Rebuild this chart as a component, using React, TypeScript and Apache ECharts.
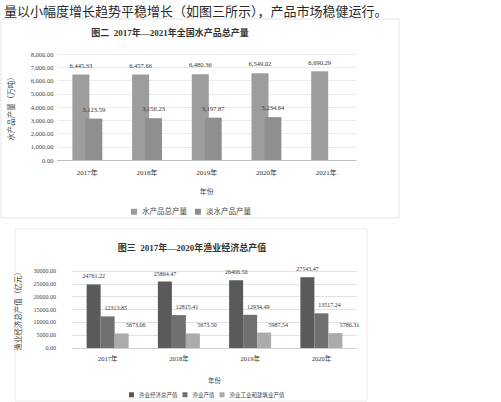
import React, { useEffect, useRef } from "react";
import * as echarts from "echarts";

const introText = "量以小幅度增长趋势平稳增长（如图三所示），产品市场稳健运行。";

const title1 = "图二  2017年—2021年全国水产品总产量";
const years1 = ["2017年", "2018年", "2019年", "2020年", "2021年"];
const seriesNames1 = ["水产品总产量", "淡水产品产量"];
const totalOutput = [6445.33, 6457.66, 6480.36, 6549.02, 6690.29];
const freshwaterOutput = [3123.59, 3156.23, 3197.87, 3234.64, null];
const yName1 = "水产品产量（万吨）";

const title2 = "图三  2017年—2020年渔业经济总产值";
const years2 = ["2017年", "2018年", "2019年", "2020年"];
const seriesNames2 = ["渔业经济总产值", "渔业产值", "渔业工业和建筑业产值"];
const economyTotal = [24761.22, 25864.47, 26406.5, 27543.47];
const fisheryValue = [12313.85, 12815.41, 12934.49, 13517.24];
const industryValue = [5673.06, 5673.5, 5987.54, 5786.31];
const yName2 = "渔业经济总产值（亿元）";

const FONT = "'Liberation Serif', 'Noto Sans CJK SC', serif";

const fmtComma = (v: number) =>
  v.toLocaleString("en-US", { minimumFractionDigits: 2, maximumFractionDigits: 2 });
const fmtPlain = (v: number) => v.toFixed(2);

export default function App() {
  const ref = useRef<HTMLDivElement>(null);
  useEffect(() => {
    if (!ref.current) return;
    const chart = echarts.init(ref.current, undefined, { renderer: "svg" });
    const labelBase = {
      show: true,
      position: "top",
      fontSize: 6.5,
      color: "#333",
      fontFamily: FONT,
    };
    chart.setOption({
      animation: false,
      backgroundColor: "#ffffff",
      textStyle: { fontFamily: FONT },
      graphic: [
        {
          type: "text",
          x: 4,
          y: 10,
          style: {
            text: introText,
            fontSize: 13,
            fill: "#2a2a2a",
            verticalAlign: "middle",
            align: "left",
            fontFamily: "'Noto Sans CJK SC', sans-serif",
          },
        },
        {
          type: "rect",
          shape: { x: 1, y: 19, width: 398, height: 199 },
          style: { fill: "none", stroke: "#e4e4e4", lineWidth: 1 },
          silent: true,
        },
        {
          type: "rect",
          shape: { x: 15, y: 229, width: 352, height: 172 },
          style: { fill: "none", stroke: "#ececec", lineWidth: 1 },
          silent: true,
        },
        {
          type: "text",
          x: 170,
          y: 33,
          style: {
            text: title1,
            fontSize: 9,
            fontWeight: "bold",
            fill: "#333",
            align: "center",
            verticalAlign: "middle",
            fontFamily: FONT,
          },
        },
        {
          type: "text",
          x: 192,
          y: 248,
          style: {
            text: title2,
            fontSize: 9,
            fontWeight: "bold",
            fill: "#333",
            align: "center",
            verticalAlign: "middle",
            fontFamily: FONT,
          },
        },
      ],
      legend: [
        {
          data: seriesNames1,
          left: 126,
          top: 203,
          itemWidth: 6,
          itemHeight: 6,
          itemGap: 8,
          icon: "rect",
          textStyle: { fontSize: 7.5, color: "#444", fontFamily: FONT },
        },
        {
          data: seriesNames2,
          left: 124,
          top: 387,
          itemWidth: 5,
          itemHeight: 5,
          itemGap: 5,
          itemTextGap: 3,
          icon: "rect",
          textStyle: { fontSize: 5.5, color: "#444", fontFamily: FONT },
        },
      ],
      grid: [
        { left: 50, top: 54, width: 306, height: 106 },
        { left: 72, top: 271, width: 285, height: 77 },
      ],
      xAxis: [
        {
          gridIndex: 0,
          type: "category",
          data: years1,
          axisLine: { lineStyle: { color: "#bdbdbd" } },
          axisTick: { show: false },
          axisLabel: { fontSize: 7, color: "#333", margin: 9 },
          name: "年份",
          nameLocation: "middle",
          nameGap: 28,
          nameTextStyle: { fontSize: 7, color: "#444" },
        },
        {
          gridIndex: 1,
          type: "category",
          data: years2,
          axisLine: { lineStyle: { color: "#cfcfcf" } },
          axisTick: { show: false },
          axisLabel: { fontSize: 6.5, color: "#333", margin: 7 },
          name: "年份",
          nameLocation: "middle",
          nameGap: 29,
          nameTextStyle: { fontSize: 6.5, color: "#444" },
        },
      ],
      yAxis: [
        {
          gridIndex: 0,
          type: "value",
          min: 0,
          max: 8000,
          interval: 1000,
          axisLine: { show: false },
          axisTick: { show: false },
          splitLine: { lineStyle: { color: "#ececec" } },
          axisLabel: { fontSize: 6.5, color: "#444", margin: 4, formatter: (v: number) => fmtComma(v) },
          name: yName1,
          nameLocation: "middle",
          nameRotate: 90,
          nameGap: 42,
          nameTextStyle: { fontSize: 7.5, color: "#444" },
        },
        {
          gridIndex: 1,
          type: "value",
          min: 0,
          max: 30000,
          interval: 5000,
          axisLine: { show: false },
          axisTick: { show: false },
          splitLine: { lineStyle: { color: "#e2e2e2" } },
          axisLabel: { fontSize: 6, color: "#444", margin: 16, formatter: (v: number) => fmtPlain(v) },
          name: yName2,
          nameLocation: "middle",
          nameRotate: 90,
          nameGap: 41,
          nameTextStyle: { fontSize: 7.5, color: "#444" },
        },
      ],
      series: [
        {
          name: seriesNames1[0],
          type: "bar",
          xAxisIndex: 0,
          yAxisIndex: 0,
          data: totalOutput,
          barWidth: 17,
          barGap: "-24%",
          itemStyle: { color: "#9d9d9d" },
          label: { ...labelBase, distance: 6, formatter: (p: any) => fmtComma(p.value) },
        },
        {
          name: seriesNames1[1],
          type: "bar",
          xAxisIndex: 0,
          yAxisIndex: 0,
          data: freshwaterOutput,
          barWidth: 17,
          barGap: "-24%",
          itemStyle: { color: "#8f8f8f" },
          label: { ...labelBase, distance: 6, formatter: (p: any) => fmtComma(p.value) },
        },
        {
          name: seriesNames2[0],
          type: "bar",
          xAxisIndex: 1,
          yAxisIndex: 1,
          data: economyTotal,
          barWidth: 14,
          barGap: "0%",
          itemStyle: { color: "#5a5a5a" },
          label: { ...labelBase, fontSize: 6, distance: 5, formatter: (p: any) => fmtPlain(p.value) },
        },
        {
          name: seriesNames2[1],
          type: "bar",
          xAxisIndex: 1,
          yAxisIndex: 1,
          data: fisheryValue,
          barWidth: 14,
          barGap: "0%",
          itemStyle: { color: "#707070" },
          label: { ...labelBase, fontSize: 6, distance: 5, offset: [8, 0], formatter: (p: any) => fmtPlain(p.value) },
        },
        {
          name: seriesNames2[2],
          type: "bar",
          xAxisIndex: 1,
          yAxisIndex: 1,
          data: industryValue,
          barWidth: 14,
          barGap: "0%",
          itemStyle: { color: "#ababab" },
          label: { ...labelBase, fontSize: 6, distance: 5, offset: [14, 0], formatter: (p: any) => fmtPlain(p.value) },
        },
      ],
    });
    return () => chart.dispose();
  }, []);
  return (
    <div
      ref={ref}
      style={{ position: "fixed", left: 0, top: 0, width: 501, height: 402, background: "#fff" }}
    />
  );
}
